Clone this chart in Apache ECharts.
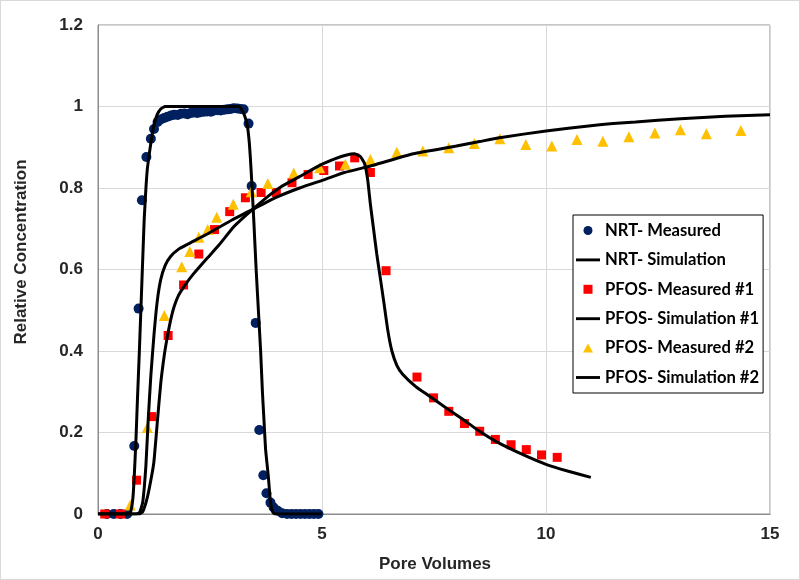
<!DOCTYPE html>
<html>
<head>
<meta charset="utf-8">
<script src="https://cdn.jsdelivr.net/npm/echarts@6/dist/echarts.min.js"></script>
<style>
html,body{margin:0;padding:0;background:#fff;}
#chart{width:800px;height:580px;box-sizing:border-box;border:1px solid #d9d9d9;}
</style>
</head>
<body>
<div id="chart"></div>
<script>
// ---- data ----
const seriesNames = ['NRT- Measured','NRT- Simulation','PFOS- Measured #1','PFOS- Simulation #1','PFOS- Measured #2','PFOS- Simulation #2'];
const xTicks = [0,5,10,15];
const yTicks = [0,0.2,0.4,0.6,0.8,1,1.2];

const nrtMeasX = [0.2,0.35,0.5,0.65,0.81,0.906,0.98,1.08,1.18,1.25,1.33,1.40,1.48,1.55,1.63,1.70,1.78,1.85,1.93,2.00,2.07,2.14,2.22,2.29,2.37,2.44,2.52,2.59,2.67,2.74,2.82,2.89,2.96,3.03,3.11,3.18,3.25,3.36,3.43,3.52,3.60,3.69,3.76,3.85,3.92,4.01,4.11,4.22,4.32,4.42,4.52,4.62,4.72,4.82,4.92];
const nrtMeasY = [0,0,0,0,0.167,0.504,0.770,0.876,0.921,0.945,0.962,0.968,0.972,0.975,0.978,0.980,0.979,0.982,0.983,0.981,0.984,0.985,0.984,0.986,0.987,0.988,0.987,0.990,0.991,0.990,0.992,0.993,0.994,0.996,0.995,0.994,0.993,0.958,0.805,0.469,0.206,0.095,0.051,0.028,0.016,0.008,0.002,0,0,0,0,0,0,0,0];

const nrtSimX = [0,0.7,0.74,0.78,0.81,0.85,0.88,0.92,0.96,1.0,1.03,1.07,1.1,1.14,1.2,1.25,1.32,1.4,1.5,3.15,3.22,3.28,3.33,3.37,3.4,3.44,3.48,3.53,3.58,3.63,3.67,3.7,3.74,3.8,3.85,3.9,3.95,5.0];
const nrtSimY = [0,0,0.01,0.04,0.094,0.19,0.28,0.39,0.51,0.63,0.72,0.80,0.845,0.88,0.925,0.955,0.98,0.994,1.0,1.0,0.99,0.975,0.955,0.92,0.876,0.80,0.715,0.60,0.50,0.40,0.30,0.24,0.16,0.094,0.03,0.005,0,0];

const pfos1MeasX = [0.15,0.5,0.86,1.20,1.565,1.91,2.25,2.60,2.94,3.29,3.64,3.98,4.33,4.69,5.04,5.39,5.73,6.08,6.43,7.12,7.49,7.83,8.18,8.52,8.87,9.22,9.56,9.90,10.25];
const pfos1MeasY = [0,0,0.083,0.239,0.438,0.562,0.638,0.698,0.742,0.776,0.789,0.789,0.813,0.833,0.843,0.854,0.874,0.838,0.597,0.336,0.285,0.252,0.222,0.203,0.183,0.170,0.158,0.145,0.139];

const pfos1SimX = [0,0.92,1.0,1.1,1.2,1.25,1.32,1.4,1.48,1.55,1.63,1.7,1.8,1.92,2.1,2.44,2.7,3.03,3.3,3.5,3.8,4.07,4.5,4.96,5.3,5.55,5.72,5.85,5.95,6.02,6.08,6.15,6.22,6.3,6.38,6.47,6.56,6.67,6.8,7.1,7.4,7.8,8.15,8.5,8.9,9.5,10.0,10.5,11.0];
const pfos1SimY = [0,0,0.006,0.04,0.095,0.13,0.22,0.32,0.39,0.436,0.48,0.509,0.537,0.558,0.585,0.628,0.66,0.705,0.733,0.752,0.78,0.802,0.828,0.856,0.872,0.881,0.884,0.878,0.86,0.82,0.76,0.70,0.64,0.58,0.52,0.45,0.40,0.365,0.343,0.312,0.289,0.258,0.232,0.204,0.177,0.145,0.122,0.105,0.09];

const pfos2MeasX = [0.72,1.10,1.48,1.87,2.05,2.25,2.45,2.65,3.02,3.42,3.79,4.37,4.95,5.52,6.08,6.67,7.25,7.83,8.40,8.97,9.55,10.13,10.69,11.27,11.85,12.43,13.00,13.58,14.35];
const pfos2MeasY = [0.022,0.212,0.487,0.607,0.644,0.679,0.698,0.728,0.760,0.791,0.811,0.837,0.850,0.858,0.870,0.888,0.891,0.899,0.909,0.921,0.907,0.903,0.919,0.915,0.926,0.935,0.943,0.933,0.941];

const pfos2SimX = [0,0.85,0.93,1.0,1.07,1.12,1.18,1.25,1.32,1.4,1.5,1.62,1.8,2.0,2.44,3.0,3.5,4.0,4.5,5.04,5.5,6.15,7.04,8.0,8.52,9.0,10.0,11.0,11.5,12.0,13.0,14.0,15.0];
const pfos2SimY = [0,0,0.004,0.03,0.12,0.23,0.34,0.44,0.52,0.575,0.61,0.632,0.65,0.662,0.687,0.722,0.75,0.778,0.80,0.82,0.838,0.856,0.884,0.903,0.914,0.924,0.94,0.953,0.958,0.962,0.97,0.976,0.98];

// ---- build ----
const zip = (xs, ys) => xs.map((x, i) => [x, ys[i]]);
const NAVY = '#002060', RED = '#FF0000', GOLD = '#FFC000';
const FONT = '"Liberation Sans", Arial, sans-serif';
const LINE_ICON = 'path://M0,0L25,0L25,3L0,3Z';
const SQUARE_ICON = 'path://M0,0L10,0L10,10L0,10Z';
const TRI_ICON = 'path://M5,0L10,9L0,9Z';

const chart = echarts.init(document.getElementById('chart'), null, {renderer: 'canvas'});
const lineSeries = (name, data) => ({
  name, type: 'line', data, showSymbol: false, symbol: 'none', smooth: 0.15,
  lineStyle: {color: '#000', width: 3}, itemStyle: {color: '#000'}, z: 3, silent: true
});
const scatterSeries = (name, data, symbol, size, color) => ({
  name, type: 'scatter', data, symbol, symbolSize: size, itemStyle: {color, opacity: 1}, z: 2, silent: true
});

chart.setOption({
  animation: false,
  backgroundColor: '#fff',
  grid: {left: 97, right: 29, top: 24, bottom: 65, show: true, borderColor: '#8c8c8c', borderWidth: 1},
  xAxis: {
    type: 'value', min: xTicks[0], max: xTicks[xTicks.length - 1], interval: 5,
    axisLine: {show: true, lineStyle: {color: '#8c8c8c', width: 1}},
    axisTick: {show: false},
    splitLine: {show: true, lineStyle: {color: '#d9d9d9', width: 1}},
    axisLabel: {color: '#262626', fontFamily: FONT, fontWeight: 'bold', fontSize: 17, margin: 12}
  },
  yAxis: {
    type: 'value', min: yTicks[0], max: yTicks[yTicks.length - 1], interval: 0.2,
    axisLine: {show: true, lineStyle: {color: '#8c8c8c', width: 1}},
    axisTick: {show: false},
    splitLine: {show: true, lineStyle: {color: '#d9d9d9', width: 1}},
    axisLabel: {color: '#262626', fontFamily: FONT, fontWeight: 'bold', fontSize: 17, margin: 15,
      formatter: v => String(+v.toFixed(1))}
  },
  graphic: [
    {type: 'text', x: 20, y: 251, rotation: Math.PI / 2,
      style: {text: 'Relative Concentration', fontFamily: FONT, fontWeight: 'bold', fontSize: 17, fill: '#262626', align: 'center', verticalAlign: 'middle'}},
    {type: 'text', x: 434, y: 563,
      style: {text: 'Pore Volumes', fontFamily: FONT, fontWeight: 'bold', fontSize: 17, fill: '#262626', align: 'center', verticalAlign: 'middle'}}
  ],
  legend: {
    orient: 'vertical', left: 572, top: 214,
    backgroundColor: '#fff', borderColor: '#000', borderWidth: 1,
    padding: [7, 4, 7, 3], itemWidth: 24, itemHeight: 9, itemGap: 12.4,
    textStyle: {color: '#000', fontFamily: 'Lato, "Open Sans", sans-serif', fontWeight: 'bold', fontSize: 16.6, lineHeight: 17},
    data: [
      {name: seriesNames[0], icon: 'circle'},
      {name: seriesNames[1], icon: LINE_ICON, itemStyle: {color: '#000'}},
      {name: seriesNames[2], icon: SQUARE_ICON},
      {name: seriesNames[3], icon: LINE_ICON, itemStyle: {color: '#000'}},
      {name: seriesNames[4], icon: TRI_ICON},
      {name: seriesNames[5], icon: LINE_ICON, itemStyle: {color: '#000'}}
    ]
  },
  series: [
    scatterSeries(seriesNames[0], zip(nrtMeasX, nrtMeasY), 'circle', 10, NAVY),
    lineSeries(seriesNames[1], zip(nrtSimX, nrtSimY)),
    scatterSeries(seriesNames[2], zip(pfos1MeasX, pfos1MeasY), 'rect', 9, RED),
    lineSeries(seriesNames[3], zip(pfos1SimX, pfos1SimY)),
    scatterSeries(seriesNames[4], zip(pfos2MeasX, pfos2MeasY), 'triangle', 11, GOLD),
    lineSeries(seriesNames[5], zip(pfos2SimX, pfos2SimY))
  ]
});
</script>
</body>
</html>
